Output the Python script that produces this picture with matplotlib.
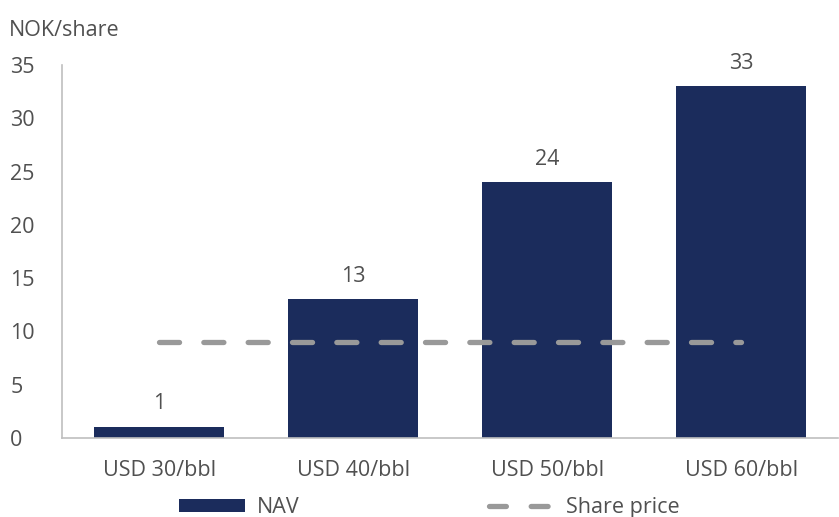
import matplotlib
matplotlib.use("Agg")
import matplotlib.pyplot as plt
from matplotlib.lines import Line2D
from matplotlib.patches import Patch

plt.rcParams['font.family'] = ['Open Sans', 'DejaVu Sans']

categories = ["USD 30/bbl", "USD 40/bbl", "USD 50/bbl", "USD 60/bbl"]
nav = [1, 13, 24, 33]
share_price = [9, 9, 9, 9]
yticks = [0, 5, 10, 15, 20, 25, 30, 35]

navy = "#1B2C5C"
grey = "#999999"
text_col = "#505050"
fs = 15.5

fig = plt.figure(figsize=(8.39, 5.17), dpi=100)
ax = fig.add_axes([0.074, 0.153, 0.925, 0.721])

dash = (0, (3.8, 4.6))
x = list(range(len(categories)))
ax.bar(x, nav, width=0.67, color=navy, zorder=2)
ax.plot(x, share_price, color=grey, lw=3.8, ls=dash,
        dash_capstyle='round', solid_capstyle='round', zorder=3)

for xi, v in zip(x, nav):
    ax.text(xi, v + 1.2, f"{v}", ha='center', va='bottom', fontsize=fs, color=text_col)

ax.set_xlim(-0.5, 3.5)
ax.set_ylim(0, 35)
ax.set_yticks(yticks)
ax.set_xticks(x)
ax.set_xticklabels(categories)
ax.tick_params(axis='both', length=0, labelsize=fs, colors=text_col)
ax.tick_params(axis='y', pad=37.4)
ax.tick_params(axis='x', pad=16)
for lbl in ax.get_yticklabels():
    lbl.set_horizontalalignment('left')

for s in ['top', 'right']:
    ax.spines[s].set_visible(False)
ax.spines['left'].set_color('#BFBFBF')
ax.spines['bottom'].set_color('#BFBFBF')
ax.spines['left'].set_linewidth(1.2)
ax.spines['bottom'].set_linewidth(1.2)

fig.text(0.011, 0.93, "NOK/share", fontsize=fs, color=text_col, ha='left', va='baseline')

handles = [Patch(facecolor=navy, edgecolor='none'),
           Line2D([0], [0], color=grey, lw=3.8, ls=(0, (3.2, 4.7)), dash_capstyle='round')]
fig.legend(handles, ["NAV", "Share price"], loc='lower center', bbox_to_anchor=(0.512, -0.04),
           ncol=2, frameon=False, fontsize=fs, handlelength=3.05, handleheight=0.55,
           columnspacing=8.8, handletextpad=0.55, labelcolor=text_col)

fig.savefig("out.png", dpi=100)
